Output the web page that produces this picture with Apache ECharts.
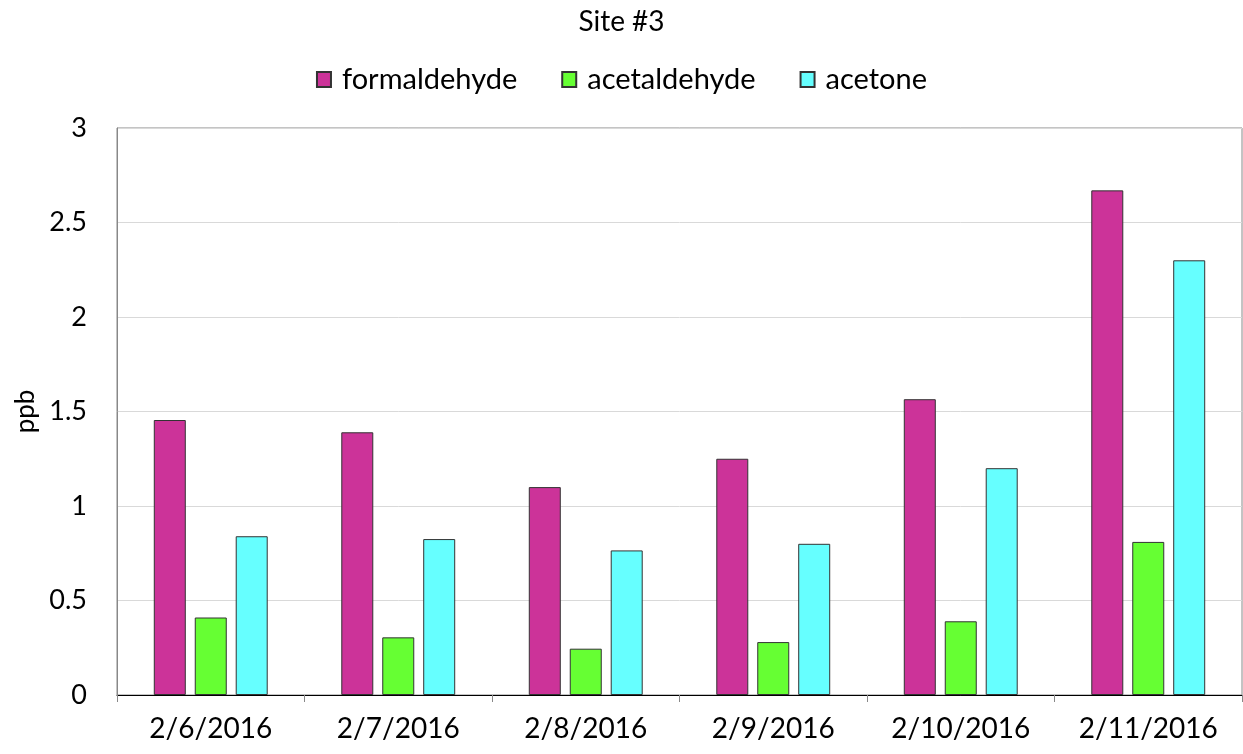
<!DOCTYPE html>
<html>
<head>
<meta charset="utf-8">
<script src="https://cdn.jsdelivr.net/npm/echarts@6/dist/echarts.min.js"></script>
<style>
  html, body { margin: 0; padding: 0; background: #fff; }
  #chart { width: 1243px; height: 754px; }
</style>
</head>
<body>
<div id="chart"></div>
<script>
const categories = ['2/6/2016', '2/7/2016', '2/8/2016', '2/9/2016', '2/10/2016', '2/11/2016']
const formaldehyde = [1.455, 1.39, 1.10, 1.25, 1.565, 2.67]
const acetaldehyde = [0.41, 0.305, 0.245, 0.28, 0.39, 0.81]
const acetone = [0.84, 0.825, 0.765, 0.80, 1.20, 2.30]

const font = 'Lato'
const colorList = ['#CC3399', '#66FF33', '#66FFFF']

function barSeries(name, data, color) {
  return {
    name: name,
    type: 'bar',
    barWidth: 32,
    barGap: '28%',
    itemStyle: { color: color, borderColor: '#333', borderWidth: 1 },
    data: data,
  }
}

const myChart = echarts.init(document.getElementById('chart'))
myChart.setOption({
  animation: false,
  title: {
    text: 'Site #3',
    left: 'center',
    top: 3,
    textStyle: { fontFamily: font, fontSize: 28, fontWeight: 'normal', color: '#000' },
  },
  legend: {
    top: 60,
    left: 'center',
    itemWidth: 14,
    itemHeight: 15,
    itemGap: 44,
    icon: 'rect',
    textStyle: { fontFamily: font, fontSize: 29, color: '#000', padding: [0, 0, 0, 6] },
    data: ['formaldehyde', 'acetaldehyde', 'acetone'],
  },
  grid: {
    left: 117,
    right: 1,
    top: 128,
    bottom: 59,
    show: true,
    borderColor: '#888',
    borderWidth: 1,
  },
  xAxis: {
    type: 'category',
    data: categories,
    axisLine: { lineStyle: { color: '#000', width: 1 } },
    axisTick: { show: true, length: 7, lineStyle: { color: '#888' } },
    axisLabel: { fontFamily: font, fontSize: 28, color: '#000', margin: 20 },
  },
  yAxis: {
    type: 'value',
    min: 0,
    max: 3,
    interval: 0.5,
    name: 'ppb',
    nameLocation: 'middle',
    nameRotate: 90,
    nameGap: 78,
    nameTextStyle: { fontFamily: font, fontSize: 26, color: '#000' },
    axisLine: { show: true, lineStyle: { color: '#888' } },
    axisTick: { show: false },
    splitLine: { lineStyle: { color: '#d9d9d9' } },
    axisLabel: { fontFamily: font, fontSize: 27, color: '#000', margin: 30 },
  },
  series: [
    barSeries('formaldehyde', formaldehyde, colorList[0]),
    barSeries('acetaldehyde', acetaldehyde, colorList[1]),
    barSeries('acetone', acetone, colorList[2]),
  ],
})
</script>
</body>
</html>
